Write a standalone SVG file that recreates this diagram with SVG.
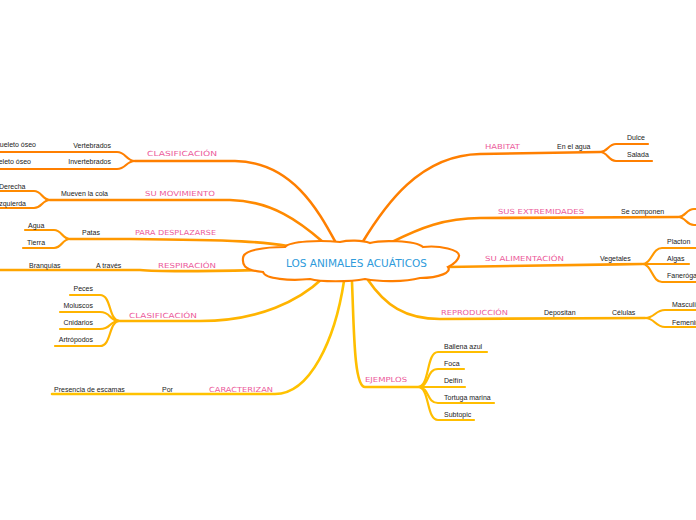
<svg xmlns="http://www.w3.org/2000/svg" width="696" height="520" viewBox="0 0 696 520">
<style>
.c{fill:none;stroke-width:2.2;stroke-linecap:round;stroke-linejoin:round}
.m{stroke-width:2.6}
.o1{stroke:#FF7F00}.o2{stroke:#FF8A00}.o3{stroke:#FF9800}.o4{stroke:#FFA500}.o5{stroke:#FFB400}.o6{stroke:#FFC200}.o7{stroke:#FFBE00}.o8{stroke:#FFB000}
.lbl{font-family:"DejaVu Sans",sans-serif;font-size:7px;fill:#EC5A9A}
.t{font-family:"Liberation Sans",Arial,sans-serif;font-size:7px;fill:#222}
.title{font-family:"DejaVu Sans",sans-serif;font-size:10px;fill:#2E9BDB}
</style>
<rect width="696" height="520" fill="#fff"/>
<g id="connectors">
  <!-- clasificacion top -->
  <path class="c m o1" d="M336,243 C318,210 292,162 235,161 L135,161"/>
  <path class="c o1" d="M135,161 C126,161 126,152 117,152 L0,152"/>
  <path class="c o1" d="M135,161 C126,161 126,169 117,169 L0,169"/>
  <!-- su movimiento -->
  <path class="c m o2" d="M323,242 C300,222 272,201 230,200 L50,200"/>
  <path class="c o2" d="M50,200 C42,200 42,191 34,191 L0,191"/>
  <path class="c o2" d="M50,200 C42,200 42,208 34,208 L0,208"/>
  <!-- para desplazarse -->
  <path class="c m o3" d="M288,246 C265,242 240,240 130,239 L70,239"/>
  <path class="c o3" d="M70,239 C62,239 62,230 54,230 L25,230"/>
  <path class="c o3" d="M70,239 C62,239 62,248 54,248 L23,248"/>
  <!-- respiracion -->
  <path class="c m o4" d="M263,270 C220,271 160,272 140,270 L0,270"/>
  <!-- clasificacion bottom -->
  <path class="c m o5" d="M323,278 C300,300 260,321 200,321 L120,321"/>
  <path class="c o5" d="M120,321 C108,321 112,295 100,295 L70,295"/>
  <path class="c o5" d="M120,321 C108,321 112,312 100,312 L60,312"/>
  <path class="c o5" d="M120,321 C108,321 112,329 100,329 L60,329"/>
  <path class="c o5" d="M120,321 C108,321 112,346 100,346 L55,346"/>
  <!-- caracterizan -->
  <path class="c m o6" d="M344,281 C335,340 310,394 275,394 L52,394"/>
  <!-- ejemplos -->
  <path class="c m o7" d="M352,282 C354,330 354,387 365,387 L418,387"/>
  <path class="c o7" d="M418,387 C430,387 426,352 438,352 L487,352"/>
  <path class="c o7" d="M418,387 C430,387 426,369 438,369 L464,369"/>
  <path class="c o7" d="M418,387 L465,387"/>
  <path class="c o7" d="M418,387 C430,387 426,403 438,403 L494,403"/>
  <path class="c o7" d="M418,387 C430,387 426,420 438,420 L474,420"/>
  <!-- reproduccion -->
  <path class="c m o8" d="M368,280 C385,305 405,319 440,319 L645,318"/>
  <path class="c o8" d="M645,318 C655,318 655,310 665,310 L696,310"/>
  <path class="c o8" d="M645,318 C655,318 655,327 665,327 L696,327"/>
  <!-- su alimentacion -->
  <path class="c m o3" d="M447,267 C520,266 580,265 642,264"/>
  <path class="c o3" d="M642,264 C652,264 652,248 662,248 L696,248"/>
  <path class="c o3" d="M642,264 L689,264"/>
  <path class="c o3" d="M642,264 C652,264 652,282 662,282 L696,282"/>
  <!-- sus extremidades -->
  <path class="c m o2" d="M392,242 C420,228 445,218 480,218 L678,217"/>
  <path class="c o2" d="M678,217 C686,217 686,209 694,209 L700,209"/>
  <path class="c o2" d="M678,217 C686,217 686,225 694,225 L700,225"/>
  <!-- habitat -->
  <path class="c m o1" d="M362,243 C385,205 420,155 480,154 L600,152"/>
  <path class="c o1" d="M600,152 C608,152 608,144 616,144 L648,144"/>
  <path class="c o1" d="M600,152 C608,152 608,161 616,161 L652,161"/>
</g>
<g id="root">
  <path d="M243,258 C243,250 265,247 285,247 C290,241 320,240 340,242 C348,240 362,240 370,243 C380,240 415,240 423,247 C440,245 460,250 459,256 C458,262 452,265 448,267 C452,272 440,278 420,278 C405,282 380,282 365,279 C350,282 320,282 310,279 C290,281 265,279 263,272 C240,270 243,262 243,258 Z" fill="#fff" stroke="#FF7F00" stroke-width="2.2"/>
  <text class="title" x="286" y="267" textLength="141" lengthAdjust="spacingAndGlyphs">LOS ANIMALES ACUÁTICOS</text>
</g>
<g id="n-clasificacion1">
  <text class="lbl" x="147" y="156" textLength="70" lengthAdjust="spacingAndGlyphs">CLASIFICACIÓN</text>
  <text class="t" x="111" y="148" text-anchor="end">Vertebrados</text>
  <text class="t" x="111" y="164" text-anchor="end">Invertebrados</text>
  <text class="t" x="36" y="147" text-anchor="end">Esqueleto óseo</text>
  <text class="t" x="31" y="164" text-anchor="end">Sin esqueleto óseo</text>
</g>
<g id="n-movimiento">
  <text class="lbl" x="145" y="196" textLength="70" lengthAdjust="spacingAndGlyphs">SU MOVIMIENTO</text>
  <text class="t" x="108" y="196" text-anchor="end">Mueven la cola</text>
  <text class="t" x="-1" y="189">Derecha</text>
  <text class="t" x="26" y="206" text-anchor="end">Izquierda</text>
</g>
<g id="n-desplazarse">
  <text class="lbl" x="135" y="235" textLength="81" lengthAdjust="spacingAndGlyphs">PARA DESPLAZARSE</text>
  <text class="t" x="82" y="235">Patas</text>
  <text class="t" x="28" y="228">Agua</text>
  <text class="t" x="27" y="245">Tierra</text>
</g>
<g id="n-respiracion">
  <text class="lbl" x="158" y="268" textLength="58" lengthAdjust="spacingAndGlyphs">RESPIRACIÓN</text>
  <text class="t" x="29" y="268">Branquias</text>
  <text class="t" x="96" y="268">A través</text>
</g>
<g id="n-clasificacion2">
  <text class="lbl" x="129" y="318" textLength="68" lengthAdjust="spacingAndGlyphs">CLASIFICACIÓN</text>
  <text class="t" x="93" y="291" text-anchor="end">Peces</text>
  <text class="t" x="93" y="308" text-anchor="end">Moluscos</text>
  <text class="t" x="93" y="325" text-anchor="end">Cnidarios</text>
  <text class="t" x="93" y="342" text-anchor="end">Artrópodos</text>
</g>
<g id="n-caracterizan">
  <text class="lbl" x="209" y="392" textLength="64" lengthAdjust="spacingAndGlyphs">CARACTERIZAN</text>
  <text class="t" x="54" y="392">Presencia de escamas</text>
  <text class="t" x="162" y="392">Por</text>
</g>
<g id="n-ejemplos">
  <text class="lbl" x="365" y="382" textLength="42" lengthAdjust="spacingAndGlyphs">EJEMPLOS</text>
  <text class="t" x="444" y="349">Ballena azul</text>
  <text class="t" x="444" y="366">Foca</text>
  <text class="t" x="444" y="383">Delfín</text>
  <text class="t" x="444" y="400">Tortuga marina</text>
  <text class="t" x="444" y="417">Subtopic</text>
</g>
<g id="n-reproduccion">
  <text class="lbl" x="441" y="315" textLength="67" lengthAdjust="spacingAndGlyphs">REPRODUCCIÓN</text>
  <text class="t" x="544" y="315">Depositan</text>
  <text class="t" x="612" y="315">Células</text>
  <text class="t" x="672" y="307">Masculino</text>
  <text class="t" x="672" y="325">Femenino</text>
</g>
<g id="n-alimentacion">
  <text class="lbl" x="485" y="261" textLength="79" lengthAdjust="spacingAndGlyphs">SU ALIMENTACIÓN</text>
  <text class="t" x="600" y="261">Vegetales</text>
  <text class="t" x="667" y="244">Placton</text>
  <text class="t" x="667" y="261">Algas</text>
  <text class="t" x="667" y="278">Fanerógamas</text>
</g>
<g id="n-extremidades">
  <text class="lbl" x="498" y="214" textLength="86" lengthAdjust="spacingAndGlyphs">SUS EXTREMIDADES</text>
  <text class="t" x="621" y="214">Se componen</text>
</g>
<g id="n-habitat">
  <text class="lbl" x="485" y="149" textLength="35" lengthAdjust="spacingAndGlyphs">HABITAT</text>
  <text class="t" x="557" y="149">En el agua</text>
  <text class="t" x="627" y="140">Dulce</text>
  <text class="t" x="627" y="157">Salada</text>
</g>
</svg>
